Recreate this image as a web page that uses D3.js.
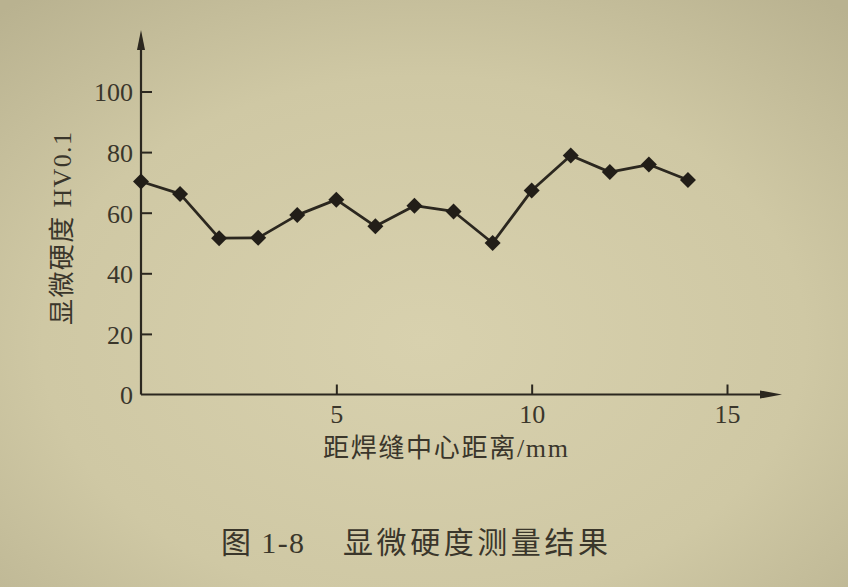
<!DOCTYPE html>
<html>
<head>
<meta charset="utf-8">
<script src="https://cdn.jsdelivr.net/npm/d3@7/dist/d3.min.js"></script>
<style>
  html, body { margin: 0; padding: 0; background: #d0c9a5; }
  svg { display: block; }
  text { font-family: "Liberation Serif", "Noto Sans CJK SC", serif; fill: #3a362b; }
</style>
</head>
<body>
<script>
// ---- data ----
const distances = [0, 1, 2, 3, 4, 5, 6, 7, 8, 9, 10, 11, 12, 13, 14];
const hardness  = [70.3, 66.2, 51.6, 51.7, 59.2, 64.3, 55.5, 62.3, 60.4, 50.0, 67.3, 78.9, 73.4, 75.9, 70.8];
const yTickValues = [0, 20, 40, 60, 80, 100];
const xTickValues = [5, 10, 15];
const xAxisTitle = "距焊缝中心距离/mm";
const yAxisTitleCn = "显微硬度";
const yAxisTitleUnit = "HV0.1";
const captionNo = "图 1-8";
const captionText = "显微硬度测量结果";

const W = 848, H = 587;
const svg = d3.select("body").append("svg").attr("width", W).attr("height", H);

// paper background with soft photo shading
const defs = svg.append("defs");
const rg = defs.append("radialGradient").attr("id", "paper")
  .attr("cx", "0.5").attr("cy", "0.58").attr("r", "0.75");
rg.append("stop").attr("offset", "0%").attr("stop-color", "#d8d1ae");
rg.append("stop").attr("offset", "60%").attr("stop-color", "#cfc8a4");
rg.append("stop").attr("offset", "100%").attr("stop-color", "#b9b290");
svg.append("rect").attr("width", W).attr("height", H).attr("fill", "url(#paper)");

const ink = "#2b271f";
const x = d3.scaleLinear().domain([0, 15]).range([141, 727]);
const y = d3.scaleLinear().domain([0, 100]).range([394.5, 91.5]);

// y axis (ticks pointing inward)
const gy = svg.append("g").attr("transform", `translate(${x(0)},0)`)
  .call(d3.axisLeft(y).tickValues(yTickValues).tickSizeInner(-11).tickSizeOuter(0).tickPadding(8).tickFormat(d3.format("d")));
gy.select(".domain").remove();
gy.selectAll(".tick line").attr("stroke", ink).attr("stroke-width", 2)
  .attr("display", d => d === 0 ? "none" : null);
gy.selectAll(".tick text").attr("font-size", 26).attr("fill", "#423e30")
  .attr("font-family", "Liberation Serif").attr("dy", "0.36em");

// x axis (ticks pointing inward)
const gx = svg.append("g").attr("transform", `translate(0,${y(0)})`)
  .call(d3.axisBottom(x).tickValues(xTickValues).tickSizeInner(-10).tickSizeOuter(0).tickPadding(10).tickFormat(d3.format("d")));
gx.select(".domain").remove();
gx.selectAll(".tick line").attr("stroke", ink).attr("stroke-width", 2);
gx.selectAll(".tick text").attr("font-size", 26).attr("fill", "#423e30")
  .attr("font-family", "Liberation Serif");

// axis lines with arrowheads
svg.append("line").attr("x1", x(0)).attr("y1", y(0)).attr("x2", x(0)).attr("y2", 46)
  .attr("stroke", ink).attr("stroke-width", 2.2);
svg.append("path").attr("d", `M${x(0)},30 L${x(0) - 4},50 L${x(0) + 4},50 Z`).attr("fill", ink);
svg.append("line").attr("x1", x(0)).attr("y1", y(0)).attr("x2", 766).attr("y2", y(0))
  .attr("stroke", ink).attr("stroke-width", 2.2);
svg.append("path").attr("d", `M782,${y(0)} L760,${y(0) - 4} L760,${y(0) + 4} Z`).attr("fill", ink);

// data line
const pts = distances.map((d, i) => [d, hardness[i]]);
svg.append("path").datum(pts)
  .attr("fill", "none").attr("stroke", ink).attr("stroke-width", 2.8).attr("stroke-linejoin", "round")
  .attr("d", d3.line().x(d => x(d[0])).y(d => y(d[1])));

// diamond markers
svg.append("g").selectAll("path").data(pts).join("path")
  .attr("d", d3.symbol().type(d3.symbolSquare).size(128))
  .attr("transform", d => `translate(${x(d[0])},${y(d[1])}) rotate(45)`)
  .attr("fill", "#221e18");

// y-axis title
svg.append("text")
  .attr("transform", "translate(71,325) rotate(-90)")
  .attr("text-anchor", "start").attr("font-size", 26)
  .attr("textLength", 193).attr("lengthAdjust", "spacing")
  .text(yAxisTitleCn + " " + yAxisTitleUnit);

// x-axis title
svg.append("text")
  .attr("x", 323).attr("y", 457).attr("font-size", 26)
  .attr("textLength", 245).attr("lengthAdjust", "spacing")
  .text(xAxisTitle);

// caption
svg.append("text")
  .attr("x", 221).attr("y", 553).attr("font-size", 30)
  .attr("textLength", 83).attr("lengthAdjust", "spacing")
  .text(captionNo);
svg.append("text")
  .attr("x", 343).attr("y", 553).attr("font-size", 30)
  .attr("textLength", 265).attr("lengthAdjust", "spacing")
  .text(captionText);
</script>
</body>
</html>
